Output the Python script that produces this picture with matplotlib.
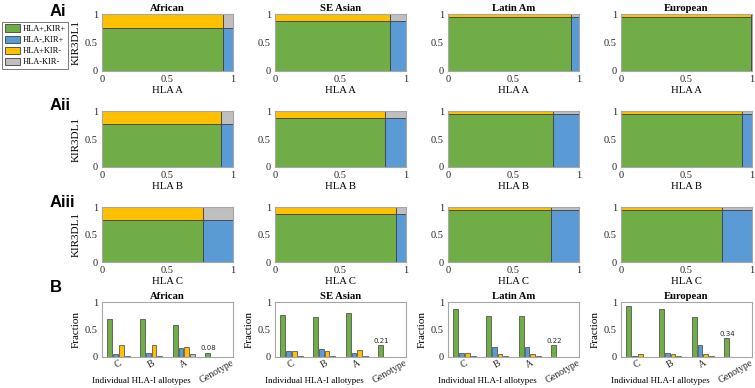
import numpy as np
import matplotlib
matplotlib.use("Agg")
import matplotlib.pyplot as plt
import matplotlib.transforms as mtrans
from matplotlib.patches import Patch

plt.rcParams['font.family'] = ['Liberation Serif', 'DejaVu Serif']

# populations and genes
pops = ['African', 'SE Asian', 'Latin Am', 'European']
genes = ['HLA A', 'HLA B', 'HLA C']

# mosaic data: fraction HLA-ligand positive (x split) per gene, KIR3DL1 positive (y split)
hla_pos = {
    'HLA A': [0.92, 0.88, 0.94, 0.99],
    'HLA B': [0.91, 0.84, 0.80, 0.92],
    'HLA C': [0.77, 0.92, 0.79, 0.77],
}
kir_pos = [0.76, 0.87, 0.94, 0.95]

# bar data (B row): [HLA+KIR+, HLA-KIR+, HLA+KIR-, HLA-KIR-] per allotype
bar_groups = ['C', 'B', 'A', 'Genotype']
bar_vals = {
    'African':  [[0.70, 0.06, 0.22, 0.01], [0.69, 0.07, 0.21, 0.02], [0.59, 0.17, 0.18, 0.05]],
    'SE Asian': [[0.77, 0.11, 0.11, 0.01], [0.73, 0.14, 0.11, 0.02], [0.80, 0.07, 0.12, 0.01]],
    'Latin Am': [[0.87, 0.07, 0.07, 0.01], [0.74, 0.19, 0.05, 0.01], [0.74, 0.19, 0.06, 0.01]],
    'European': [[0.92, 0.02, 0.06, 0.00], [0.88, 0.07, 0.05, 0.01], [0.73, 0.21, 0.05, 0.01]],
}
genotype = [0.08, 0.21, 0.22, 0.34]

labels = ['HLA+,KIR+', 'HLA-,KIR+', 'HLA+KIR-', 'HLA-KIR-']
colors = ['#70AD47', '#5B9BD5', '#FFC000', '#BFBFBF']
edge = '#404040'
spine_col = '#a6a6a6'

fig = plt.figure(figsize=(7.55, 3.88), dpi=100)
W, H = 755.0, 388.0
col_left = [102, 275, 448, 621]
ax_w = 131
rows = [(14, 71), (111, 167), (207, 262), (302, 357)]


def make_ax(c, r):
    top, bot = rows[r]
    return fig.add_axes([col_left[c] / W, 1 - bot / H, ax_w / W, (bot - top) / H])


def style(ax):
    for s in ax.spines.values():
        s.set_color(spine_col)
        s.set_linewidth(0.8)
    ax.tick_params(length=0, labelsize=7.5, pad=3, colors='#262626')


for r, gene in enumerate(genes):
    for c, pop in enumerate(pops):
        ax = make_ax(c, r)
        p = hla_pos[gene][c]
        k = kir_pos[c]
        ax.bar(0, k, width=p, align='edge', color=colors[0], edgecolor=edge, lw=0.6)
        ax.bar(0, 1 - k, bottom=k, width=p, align='edge', color=colors[2], edgecolor=edge, lw=0.6)
        ax.bar(p, k, width=1 - p, align='edge', color=colors[1], edgecolor=edge, lw=0.6)
        ax.bar(p, 1 - k, bottom=k, width=1 - p, align='edge', color=colors[3], edgecolor=edge, lw=0.6)
        ax.set_xlim(0, 1)
        ax.set_ylim(0, 1)
        ax.set_xticks([0, 0.5, 1])
        ax.set_xticklabels(['0', '0.5', '1'])
        ax.set_yticks([0, 0.5, 1])
        ax.set_yticklabels(['0', '0.5', '1'])
        ax.set_xlabel(gene, fontsize=7.7, labelpad=1)
        if c == 0:
            ax.set_ylabel('KIR3DL1', fontsize=8, labelpad=3)
        if r == 0:
            ax.set_title(pop, fontsize=7.7, fontweight='bold', pad=2)
        style(ax)

# B row: grouped bars
offs = np.array([-1.5, -0.5, 0.5, 1.5]) * 0.177
shift = mtrans.ScaledTranslation(-4 / 72, 0, fig.dpi_scale_trans)
for c, pop in enumerate(pops):
    ax = make_ax(c, 3)
    vals = np.array(bar_vals[pop])
    x = np.arange(1, 4)
    for j in range(4):
        ax.bar(x + offs[j], vals[:, j], width=0.15, color=colors[j], edgecolor=edge, lw=0.5)
    ax.bar(4 + offs[0], genotype[c], width=0.15, color=colors[0], edgecolor=edge, lw=0.5)
    ax.text(4 + offs[0], genotype[c] + 0.02, '%.2f' % genotype[c], family='DejaVu Sans',
            fontsize=5, ha='center', va='bottom', color='#262626')
    ax.set_xlim(0.5, 4.5)
    ax.set_ylim(0, 1)
    ax.set_xticks(np.arange(1, 5))
    ax.set_xticklabels(bar_groups, rotation=30, ha='center', fontsize=7)
    for t in ax.get_xticklabels():
        t.set_transform(t.get_transform() + shift)
    ax.set_yticks([0, 0.5, 1])
    ax.set_yticklabels(['0', '0.5', '1'])
    ax.set_ylabel('Fraction', fontsize=8, labelpad=3)
    ax.text(0.30, -0.43, 'Individual HLA-I allotypes', transform=ax.transAxes,
            fontsize=6.5, ha='center', va='center')
    ax.set_title(pop, fontsize=7.7, fontweight='bold', pad=2)
    style(ax)
    ax.tick_params(axis='x', pad=1, labelsize=7)

# legend
handles = [Patch(facecolor=colors[i], edgecolor=edge, lw=0.6, label=labels[i]) for i in range(4)]
leg = fig.legend(handles=handles, loc='upper left', bbox_to_anchor=(2 / W, 1 - 22 / H),
                 fontsize=6, frameon=True, fancybox=False, handlelength=1.9, handleheight=1.0,
                 handletextpad=0.3, labelspacing=0.3, borderpad=0.3, borderaxespad=0)
leg.get_frame().set_edgecolor('#404040')
leg.get_frame().set_linewidth(0.6)

# panel labels
for lab, y in [('Ai', 11), ('Aii', 106), ('Aiii', 202), ('B', 288)]:
    fig.text(50 / W, 1 - y / H, lab, family='Liberation Sans', fontsize=12,
             fontweight='bold', ha='left', va='center')

fig.savefig('out.png', dpi=100)
